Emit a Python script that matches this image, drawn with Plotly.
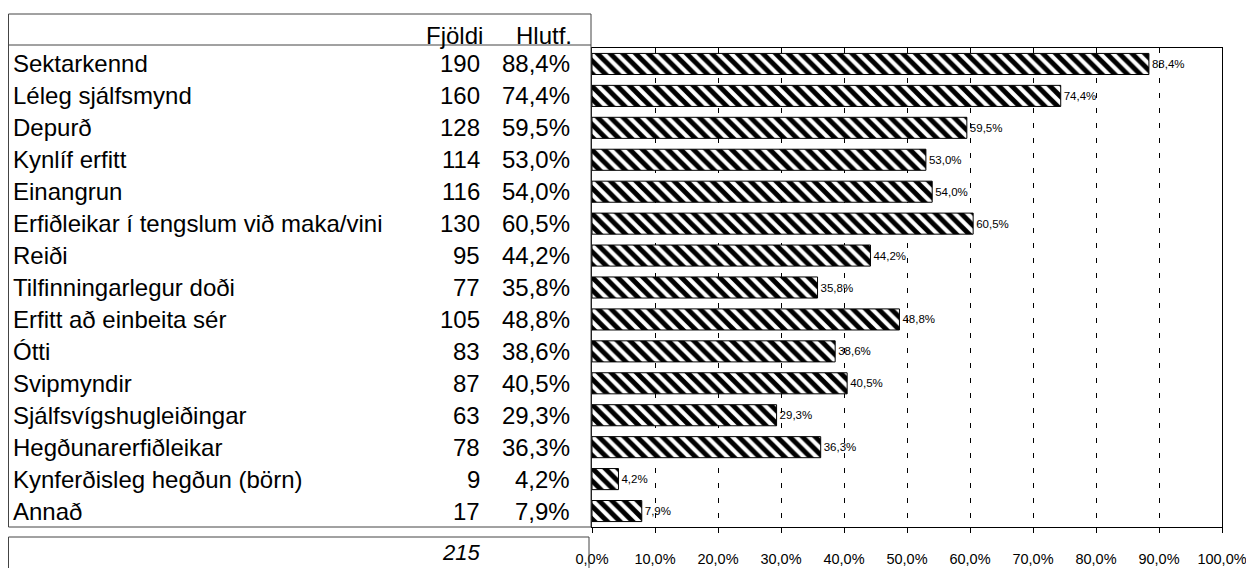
import plotly.graph_objects as go

categories = [
    "Sektarkennd", "Léleg sjálfsmynd", "Depurð", "Kynlíf erfitt", "Einangrun",
    "Erfiðleikar í tengslum við maka/vini", "Reiði", "Tilfinningarlegur doði",
    "Erfitt að einbeita sér", "Ótti", "Svipmyndir", "Sjálfsvígshugleiðingar",
    "Hegðunarerfiðleikar", "Kynferðisleg hegðun (börn)", "Annað",
]
counts = [190, 160, 128, 114, 116, 130, 95, 77, 105, 83, 87, 63, 78, 9, 17]
percents = [88.4, 74.4, 59.5, 53.0, 54.0, 60.5, 44.2, 35.8, 48.8, 38.6, 40.5, 29.3, 36.3, 4.2, 7.9]
total = 215
header = ["Fjöldi", "Hlutf."]
xticks = [0, 10, 20, 30, 40, 50, 60, 70, 80, 90, 100]
xtick_labels = ["0,0%", "10,0%", "20,0%", "30,0%", "40,0%", "50,0%",
                "60,0%", "70,0%", "80,0%", "90,0%", "100,0%"]

# the page places the figure 8px from the window's top-left corner
OFF = 8
W, H = 1254 - OFF, 568 - OFF
L, R, T, B = 592 - OFF, 1222 - OFF, 48 - OFF, 527 - OFF


def px(xp):
    return (xp - OFF - L) / (R - L)


def py(yp):
    return (B - (yp - OFF)) / (B - T)


FONT = "Liberation Sans, Arial, sans-serif"
TS = 24

fig = go.Figure()
fig.add_trace(go.Bar(
    y=categories, x=percents, orientation="h",
    marker=dict(color="white", line=dict(color="black", width=1),
                pattern=dict(shape="\\", fgcolor="black", bgcolor="white",
                             fgopacity=1, size=9, solidity=0.55)),
    texttemplate="%{x:.1f}%", textposition="outside", cliponaxis=False,
    constraintext="none",
    textfont=dict(size=11.5, color="black", family=FONT),
    hoverinfo="skip",
))

ann = []
ann.append(dict(x=px(485), y=py(36), xref="paper", yref="paper", text=header[0],
                showarrow=False, xanchor="right", yanchor="middle",
                font=dict(size=TS, family=FONT, color="black")))
ann.append(dict(x=px(574), y=py(36), xref="paper", yref="paper", text=header[1],
                showarrow=False, xanchor="right", yanchor="middle",
                font=dict(size=TS, family=FONT, color="black")))
for c, n, p in zip(categories, counts, percents):
    ann.append(dict(x=px(11), y=c, xref="paper", yref="y", text=c, showarrow=False,
                    xanchor="left", yanchor="middle",
                    font=dict(size=TS, family=FONT, color="black")))
    ann.append(dict(x=px(482), y=c, xref="paper", yref="y", text=str(n), showarrow=False,
                    xanchor="right", yanchor="middle",
                    font=dict(size=TS, family=FONT, color="black")))
    ann.append(dict(x=px(572), y=c, xref="paper", yref="y",
                    text=f"{p:.1f}%".replace(".", ","), showarrow=False,
                    xanchor="right", yanchor="middle",
                    font=dict(size=TS, family=FONT, color="black")))
ann.append(dict(x=px(482), y=py(552), xref="paper", yref="paper",
                text=f"<i>{total}</i>", showarrow=False, xanchor="right", yanchor="middle",
                font=dict(size=22, family=FONT, color="black")))

shapes = []
lc = dict(color="#444", width=1)
XL = 8.5
shapes.append(dict(type="rect", xref="paper", yref="paper", x0=px(XL), x1=px(591),
                   y0=py(527), y1=py(14), line=lc))
shapes.append(dict(type="line", xref="paper", yref="paper", x0=px(XL), x1=px(591),
                   y0=py(45), y1=py(45), line=lc))
shapes.append(dict(type="line", xref="paper", yref="paper", x0=px(XL), x1=px(589),
                   y0=py(537), y1=py(537), line=lc))
shapes.append(dict(type="line", xref="paper", yref="paper", x0=px(XL), x1=px(XL),
                   y0=py(537), y1=py(575), line=lc))
shapes.append(dict(type="line", xref="paper", yref="paper", x0=px(589), x1=px(589),
                   y0=py(537), y1=py(575), line=lc))

fig.update_layout(
    width=W, height=H,
    margin=dict(l=L, r=W - R, t=T, b=H - B, pad=0, autoexpand=False),
    paper_bgcolor="white", plot_bgcolor="white",
    showlegend=False, bargap=0.34,
    separators=",.",
    font=dict(family=FONT, color="black"),
    annotations=ann, shapes=shapes,
    xaxis=dict(range=[0, 100], tickvals=xticks, ticktext=xtick_labels,
               showgrid=True, gridcolor="black", gridwidth=1, griddash="5px,10px",
               showline=True, linecolor="black", linewidth=1, mirror=True,
               ticks="outside", ticklen=5, tickcolor="black",
               tickfont=dict(size=14.5, family=FONT, color="black"),
               ticklabelstandoff=14, zeroline=False, fixedrange=True, automargin=False),
    xaxis2=dict(range=[0, 100], overlaying="x", anchor="y", side="bottom",
                tickvals=xticks, ticks="inside", ticklen=5, tickcolor="black",
                showticklabels=False, showgrid=False, zeroline=False, showline=False,
                automargin=False),
    yaxis=dict(categoryorder="array", categoryarray=categories, autorange="reversed",
               showticklabels=False, showgrid=False, showline=True, linecolor="black",
               linewidth=1, mirror=True, ticks="", zeroline=False, fixedrange=True,
               automargin=False),
)

fig.write_html("out.html")
